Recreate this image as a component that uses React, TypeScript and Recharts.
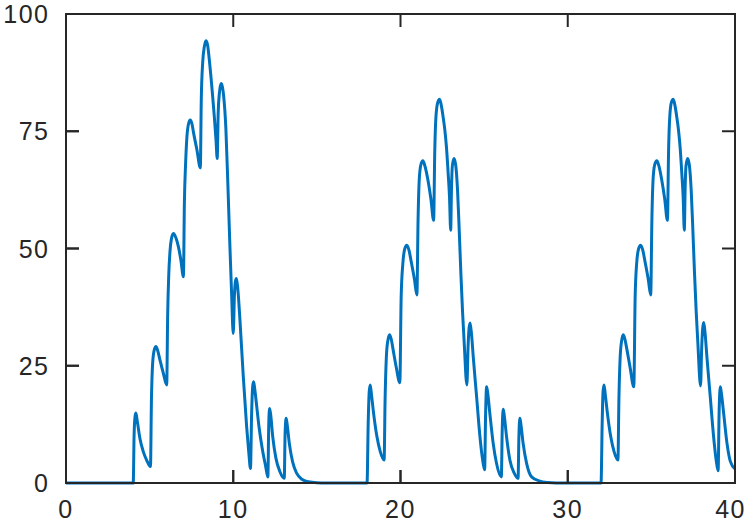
import React from "react";
import { LineChart, Line, XAxis, YAxis } from "recharts";

// [time, value] pairs
const leadIn: [number, number][] = [[0, 0], [4.02, 0]];
const cycle1: [number, number][] = [
  [4.07, 10], [4.13, 14.2], [4.18, 14.9], [4.26, 13.2], [4.42, 9.5], [4.62, 6.7], [4.82, 4.9], [5.05, 3.5],
  [5.11, 18], [5.18, 25.5], [5.27, 28.3], [5.38, 29.1], [5.5, 28.0], [5.62, 26.2], [5.82, 23.4], [6.02, 20.9],
  [6.08, 36], [6.14, 44], [6.22, 49.5], [6.3, 52], [6.42, 53.2], [6.57, 52.3], [6.72, 50.4], [6.87, 47.5], [7.02, 44.0],
  [7.08, 60], [7.15, 68], [7.23, 73.8], [7.32, 76.5], [7.43, 77.4], [7.53, 76.6], [7.63, 74.6], [7.83, 71.0], [8.03, 67.2],
  [8.09, 82], [8.17, 89.5], [8.27, 93], [8.37, 94.3], [8.47, 93.3], [8.57, 90.2], [8.67, 86.5], [8.77, 82.4], [8.87, 78], [8.97, 73.1], [9.04, 69.2],
  [9.1, 79], [9.17, 83.1], [9.27, 85.2], [9.35, 84.5], [9.43, 82.4], [9.56, 75.5], [9.68, 63.5], [9.8, 50.5], [9.9, 40.5], [10.0, 31.9],
  [10.07, 40], [10.13, 43], [10.19, 43.6], [10.27, 41.5], [10.4, 34.8], [10.6, 22.7], [10.8, 12.0], [10.93, 6.5], [11.03, 3.1],
  [11.1, 15], [11.16, 20.5], [11.21, 21.6], [11.27, 20.5], [11.34, 18.4], [11.54, 12.0], [11.73, 7.4], [11.94, 3.5], [12.07, 1.3],
  [12.12, 12], [12.17, 15.9], [12.23, 14.8], [12.36, 9.9], [12.55, 5.3], [12.79, 2.4], [13.05, 1.0],
  [13.1, 10.5], [13.16, 13.8], [13.22, 12.6], [13.35, 8.5], [13.55, 4.5], [13.79, 2.1], [14.1, 0.8], [14.5, 0.25], [15.0, 0.05], [15.5, 0],
];
const gap1: [number, number][] = [[18.0, 0]];
const cycle2: [number, number][] = [
  [18.07, 13], [18.13, 19.5], [18.19, 20.9], [18.26, 19], [18.39, 14.9], [18.59, 9.9], [18.79, 6.7], [19.02, 4.9],
  [19.08, 18], [19.15, 26.5], [19.24, 30.3], [19.35, 31.6], [19.45, 30.6], [19.55, 28.6], [19.74, 24.8], [19.96, 21.4],
  [20.04, 39.7], [20.14, 46.8], [20.26, 50], [20.38, 50.7], [20.51, 49.6], [20.64, 47.2], [20.84, 43.3], [20.98, 40.1],
  [21.05, 56], [21.12, 64.6], [21.22, 67.9], [21.34, 68.7], [21.46, 67.6], [21.64, 64.6], [21.82, 60.5], [21.98, 56.0],
  [22.05, 71], [22.12, 78.1], [22.23, 81.2], [22.34, 81.8], [22.45, 80.3], [22.55, 78], [22.65, 75.3], [22.75, 71.5], [22.85, 66.0], [22.93, 61], [23.0, 53.9],
  [23.05, 63], [23.1, 67.6], [23.2, 69.2], [23.3, 67.8], [23.41, 62.5], [23.51, 54], [23.61, 44.7], [23.71, 36.5], [23.81, 29.8], [23.97, 20.9],
  [24.04, 29], [24.1, 33], [24.16, 34.1], [24.24, 32], [24.35, 26.9], [24.55, 18.4], [24.75, 9.9], [24.9, 5.2], [25.03, 2.8],
  [25.09, 15], [25.15, 20.5], [25.21, 19.3], [25.34, 14.9], [25.54, 8.5], [25.74, 4.2], [26.03, 1.3],
  [26.08, 11], [26.14, 15.7], [26.2, 14.5], [26.34, 9.9], [26.54, 4.9], [26.8, 2.1], [27.03, 1.0],
  [27.08, 10], [27.14, 13.8], [27.2, 12.5], [27.33, 8.5], [27.54, 4.2], [27.84, 1.3], [28.33, 0.4], [28.8, 0.1], [29.3, 0],
];
const gap2: [number, number][] = [[31.99, 0]];
const cycle3: [number, number][] = [
  [32.06, 13], [32.11, 19.5], [32.17, 20.9], [32.24, 19], [32.37, 14.9], [32.57, 9.9], [32.77, 6.7], [33.0, 4.9],
  [33.06, 18], [33.13, 26.5], [33.22, 30.3], [33.32, 31.6], [33.42, 30.6], [33.53, 28.6], [33.73, 24.6], [33.95, 20.5],
  [34.03, 39.7], [34.12, 46.8], [34.24, 50], [34.36, 50.7], [34.49, 49.6], [34.62, 47.2], [34.82, 43.3], [34.96, 40.1],
  [35.03, 56], [35.1, 64.6], [35.2, 67.9], [35.33, 68.7], [35.45, 67.6], [35.62, 64.6], [35.8, 60.5], [35.96, 56.0],
  [36.03, 71], [36.1, 78.1], [36.2, 81.2], [36.31, 81.8], [36.42, 80.3], [36.52, 78], [36.62, 75.3], [36.72, 71.5], [36.82, 66.0], [36.9, 61], [36.97, 53.9],
  [37.02, 63], [37.07, 67.6], [37.17, 69.2], [37.27, 67.8], [37.38, 62.5], [37.48, 54], [37.58, 44.7], [37.68, 36.5], [37.78, 29.8], [37.94, 20.7],
  [38.01, 29], [38.07, 33], [38.13, 34.2], [38.21, 32], [38.32, 26.9], [38.52, 18.4], [38.72, 9.9], [38.87, 5.0], [38.99, 2.6],
  [39.05, 15], [39.12, 20.5], [39.18, 19.3], [39.32, 14.9], [39.52, 8.5], [39.72, 4.6], [40.0, 3.0],
];

const xTicks = [0, 10, 20, 30, 40];
const yTicks = [0, 25, 50, 75, 100];
const xDomain: [number, number] = [0, 40];
const yDomain: [number, number] = [0, 100];

const data = [...leadIn, ...cycle1, ...gap1, ...cycle2, ...gap2, ...cycle3].map(([t, v]) => ({ t, v }));

// chart geometry (pixels)
const W = 747, H = 527;
const M = { top: 14, right: 12, left: 0, bottom: 0 };
const YW = 66, XH = 44;
const plotL = M.left + YW;
const plotT = M.top;
const plotW = W - M.left - M.right - YW;
const plotH = H - M.top - M.bottom - XH;
const TL = 13; // inward tick length, px

const axisColor = "#262626";
const LS = 1.5; // letter spacing

// tick positions along the frame, from the same linear domains the axes use
const fx = (t: number) => plotL + ((t - xDomain[0]) / (xDomain[1] - xDomain[0])) * plotW;
const fy = (v: number) => plotT + ((yDomain[1] - v) / (yDomain[1] - yDomain[0])) * plotH;

const BottomTick = (p: any) => {
  const { x, y, payload } = p;
  const last = payload.value === xDomain[1];
  return (
    <g>
      <path d={`M${x},${y}L${x},${y - TL}`} stroke={axisColor} strokeWidth={2} fill="none" />
      <text x={last ? x + 11 : x} y={y + 35} textAnchor={last ? "end" : "middle"} fill={axisColor}>{payload.value}</text>
    </g>
  );
};
const LeftTick = (p: any) => (
  <g>
    <path d={`M${p.x},${p.y}L${p.x + TL},${p.y}`} stroke={axisColor} strokeWidth={2} fill="none" />
    <text x={p.x - 18 + LS} y={p.y + 9} textAnchor="end" fill={axisColor}>{p.payload.value}</text>
  </g>
);

const common: any = { stroke: axisColor, axisLine: { strokeWidth: 2 }, tickLine: false, tickSize: 0, tickMargin: 0, interval: 0 };

function Frame() {
  const inner = (arr: number[], d: [number, number]) => arr.filter((a) => a > d[0] && a < d[1]);
  const R = plotL + plotW, B = plotT + plotH;
  return (
    <svg width={W} height={H} style={{ position: "absolute", top: 0, left: 0, pointerEvents: "none", zIndex: 1 }}>
      <g stroke={axisColor} strokeWidth={2} fill="none">
        <path d={`M${plotL},${plotT}L${R},${plotT}L${R},${B}`} strokeLinecap="square" strokeLinejoin="miter" />
        <path d={`M${plotL},${B}L${plotL},${plotT}`} strokeLinecap="square" />
        {inner(xTicks, xDomain).map((t) => (
          <path key={`b${t}`} d={`M${fx(t)},${B}L${fx(t)},${B - TL}`} />
        ))}
        {inner(xTicks, xDomain).map((t) => (
          <path key={`t${t}`} d={`M${fx(t)},${plotT}L${fx(t)},${plotT + TL}`} />
        ))}
        {inner(yTicks, yDomain).map((v) => (
          <path key={`l${v}`} d={`M${plotL},${fy(v)}L${plotL + TL},${fy(v)}`} />
        ))}
        {inner(yTicks, yDomain).map((v) => (
          <path key={`r${v}`} d={`M${R},${fy(v)}L${R - TL},${fy(v)}`} />
        ))}
      </g>
    </svg>
  );
}

export default function App() {
  return (
    <div style={{
      position: "absolute", top: 0, left: 0, width: W, height: H, lineHeight: 0,
      fontFamily: "'Liberation Sans', Arial, Helvetica, sans-serif", fontSize: 25, letterSpacing: LS,
    }}>
      <div style={{ position: "absolute", top: 0, left: 0, width: W, height: H }}>
        <LineChart width={W} height={H} data={data} margin={M}>
          <XAxis xAxisId="b" dataKey="t" type="number" domain={xDomain} ticks={xTicks} orientation="bottom"
            height={XH} {...common} tick={<BottomTick />} />
          <YAxis yAxisId="l" type="number" domain={yDomain} ticks={yTicks} orientation="left"
            width={YW} {...common} tick={<LeftTick />} />
          <Line xAxisId="b" yAxisId="l" type="monotone" dataKey="v" stroke="#0072BD" strokeWidth={3}
            dot={false} activeDot={false} isAnimationActive={false} />
        </LineChart>
      </div>
      <Frame />
    </div>
  );
}
